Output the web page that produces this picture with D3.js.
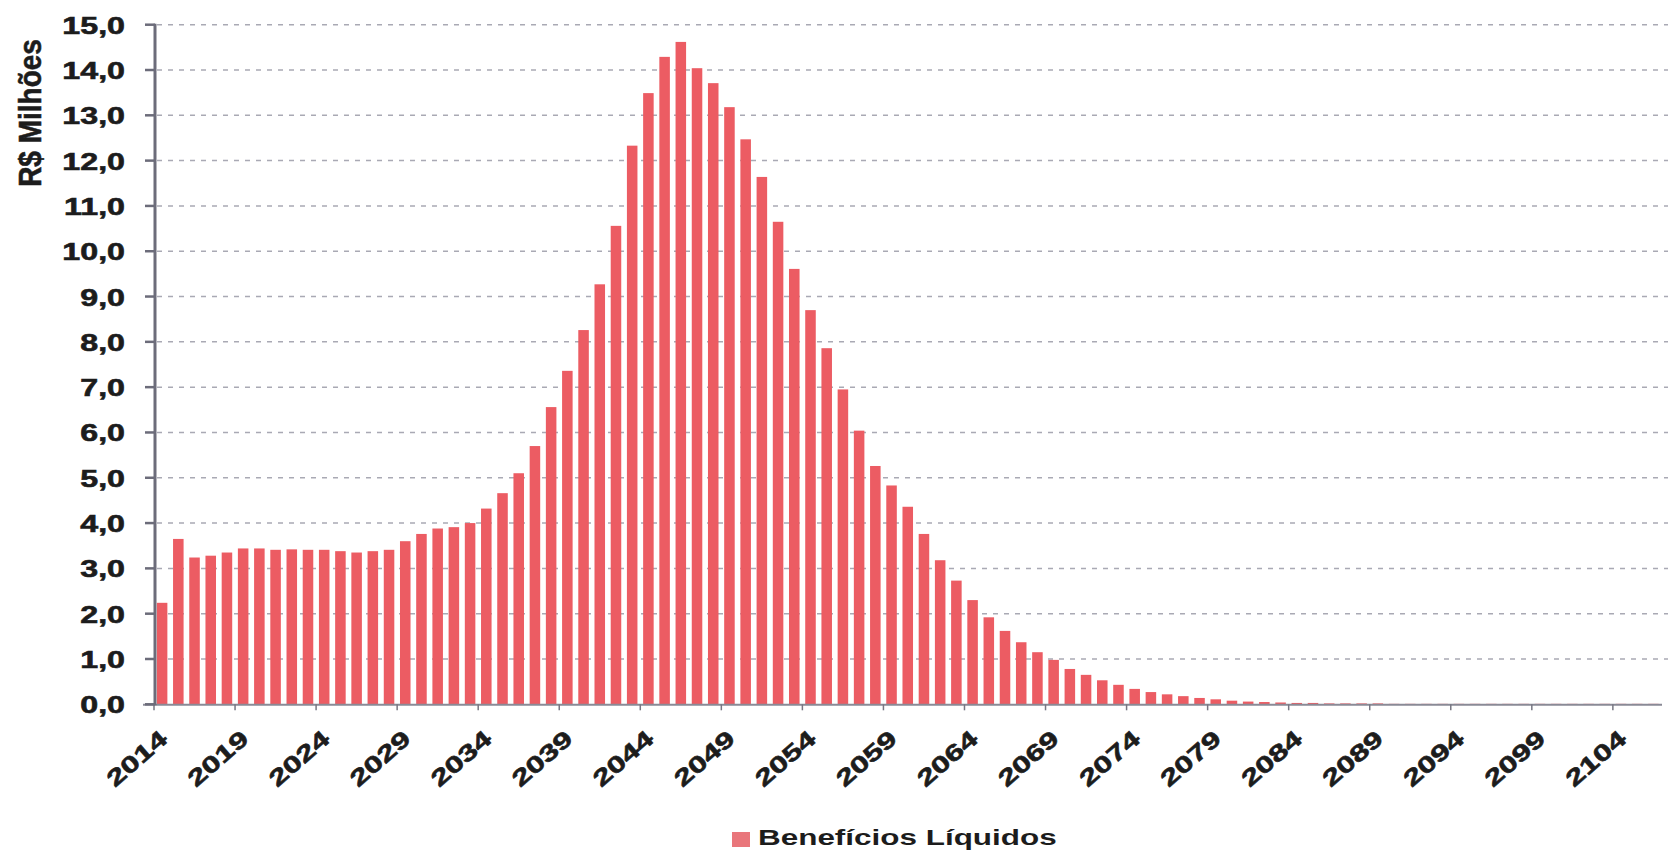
<!DOCTYPE html>
<html>
<head>
<meta charset="utf-8">
<script src="https://cdn.jsdelivr.net/npm/d3@7"></script>
<style>
  html, body { margin: 0; padding: 0; background: #ffffff; }
  svg { display: block; }
  text { font-family: "Liberation Sans", Arial, sans-serif; font-weight: bold; fill: #1c1c1c; }
</style>
</head>
<body>
<svg id="chart" width="1671" height="853"></svg>
<script>
// ---------- data ----------
const years = [
  2014,2015,2016,2017,2018,2019,2020,2021,2022,2023,
  2024,2025,2026,2027,2028,2029,2030,2031,2032,2033,
  2034,2035,2036,2037,2038,2039,2040,2041,2042,2043,
  2044,2045,2046,2047,2048,2049,2050,2051,2052,2053,
  2054,2055,2056,2057,2058,2059,2060,2061,2062,2063,
  2064,2065,2066,2067,2068,2069,2070,2071,2072,2073,
  2074,2075,2076,2077,2078,2079,2080,2081,2082,2083,
  2084,2085,2086,2087,2088,2089,2090,2091,2092,2093,
  2094,2095,2096,2097,2098,2099,2100,2101,2102,2103,
  2104,2105,2106
];
const beneficiosLiquidos = [
  2.24,3.65,3.24,3.28,3.35,3.44,3.44,3.41,3.42,3.41,
  3.41,3.38,3.35,3.38,3.41,3.60,3.76,3.88,3.91,4.00,
  4.32,4.66,5.10,5.70,6.56,7.36,8.26,9.27,10.56,12.33,
  13.49,14.29,14.62,14.04,13.71,13.18,12.47,11.64,10.65,9.61,
  8.70,7.86,6.95,6.04,5.26,4.83,4.36,3.76,3.18,2.73,
  2.30,1.92,1.62,1.37,1.15,0.98,0.78,0.65,0.53,0.43,
  0.34,0.27,0.22,0.18,0.14,0.11,0.08,0.06,0.05,0.04,
  0.03,0.03,0.02,0.02,0.02,0.02,0.01,0.01,0.01,0.01,
  0.01,0.01,0.01,0.01,0.01,0.01,0.01,0.01,0.01,0.01,
  0.01,0.01,0.01
];
const xTickLabels = [2014,2019,2024,2029,2034,2039,2044,2049,2054,2059,
                     2064,2069,2074,2079,2084,2089,2094,2099,2104];
const yTickValues = [0,1,2,3,4,5,6,7,8,9,10,11,12,13,14,15];
const yTitle = "R$ Milhões";
const seriesName = "Benefícios Líquidos";

// ---------- layout ----------
const svg = d3.select("#chart");
const plotLeft = 154, plotRight = 1661.5, plotTop = 24.7, plotBottom = 704.3;
const stretch = 1.4; // horizontal stretch of the reference's text

const x = d3.scaleBand().domain(years).range([plotLeft, plotRight])
  .paddingInner(0.35).paddingOuter(0.175);
const y = d3.scaleLinear().domain([0, 15]).range([plotBottom, plotTop]);
const fmt = v => d3.format(".1f")(v).replace(".", ",");

// gridlines
svg.append("g").selectAll("line").data(yTickValues.filter(v => v > 0)).join("line")
  .attr("x1", plotLeft + 3).attr("x2", 1668)
  .attr("y1", d => y(d)).attr("y2", d => y(d))
  .attr("stroke", "#a9a9b4").attr("stroke-width", 1.5)
  .attr("stroke-dasharray", "5,6");

// bars
svg.append("g").selectAll("rect").data(years).join("rect")
  .attr("x", d => x(d))
  .attr("width", x.bandwidth())
  .attr("y", (d, i) => y(beneficiosLiquidos[i]))
  .attr("height", (d, i) => y(0) - y(beneficiosLiquidos[i]))
  .attr("fill", "#ec5c63");

// x axis line + ticks (between categories, every 5)
svg.append("line").attr("x1", 143).attr("x2", 1662)
  .attr("y1", plotBottom + 0.5).attr("y2", plotBottom + 0.5)
  .attr("stroke", "#8a8a96").attr("stroke-width", 2);
const gap = (x.step() - x.bandwidth()) / 2;
svg.append("g").selectAll("line").data(xTickLabels).join("line")
  .attr("x1", d => x(d) - gap)
  .attr("x2", d => x(d) - gap)
  .attr("y1", plotBottom).attr("y2", plotBottom + 6)
  .attr("stroke", "#777783").attr("stroke-width", 1.5);

// y axis line + ticks
svg.append("line").attr("x1", plotLeft + 1).attr("x2", plotLeft + 1)
  .attr("y1", plotTop - 1).attr("y2", plotBottom + 1)
  .attr("stroke", "#6c6c7a").attr("stroke-width", 3);
svg.append("g").selectAll("line").data(yTickValues).join("line")
  .attr("x1", 145).attr("x2", plotLeft + 1)
  .attr("y1", d => y(d)).attr("y2", d => y(d))
  .attr("stroke", "#6c6c7a").attr("stroke-width", 2.5);

// y tick labels
svg.append("g").selectAll("text").data(yTickValues).join("text")
  .attr("transform", d => `translate(125,${y(d) + 9}) scale(${stretch},1)`)
  .attr("text-anchor", "end")
  .style("font-size", "23px")
  .attr("stroke", "#1c1c1c").attr("stroke-width", 0.6)
  .text(d => fmt(d));

// x tick labels (rotated, glyphs stretched along the baseline)
svg.append("g").selectAll("text").data(xTickLabels).join("text")
  .attr("transform", d => `translate(${x(d) + x.bandwidth() / 2 + 7},741) rotate(-41) scale(${stretch},1)`)
  .attr("text-anchor", "end")
  .style("font-size", "23px")
  .attr("stroke", "#1c1c1c").attr("stroke-width", 0.6)
  .text(d => d);

// y title
svg.append("text")
  .attr("transform", `translate(41,113) scale(1.15,1) rotate(-90)`)
  .attr("text-anchor", "middle")
  .style("font-size", "28px")
  .attr("stroke", "#1c1c1c").attr("stroke-width", 0.5)
  .text(yTitle);

// legend
svg.append("rect").attr("x", 732).attr("y", 832).attr("width", 18).attr("height", 15)
  .attr("fill", "#e9767b");
svg.append("text")
  .attr("transform", `translate(758,845) scale(1.43,1)`)
  .style("font-size", "22px")
  .text(seriesName);
</script>
</body>
</html>
